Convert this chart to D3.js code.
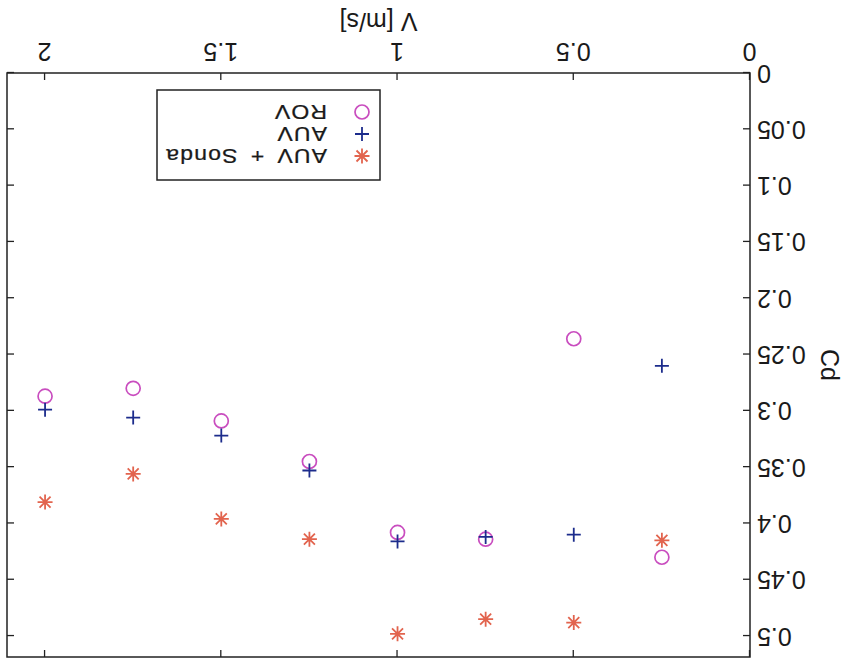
<!DOCTYPE html>
<html>
<head>
<meta charset="utf-8">
<script src="https://cdn.jsdelivr.net/npm/d3@7"></script>
<style>
  html, body { margin: 0; padding: 0; background: #fff; }
  svg { display: block; }
  text { font-family: "Liberation Sans", Arial, sans-serif; fill: #1a1a1a; }
</style>
</head>
<body>
<svg id="chart" width="845" height="661"></svg>
<script>
// ---- data ----
const speeds = [0.25, 0.5, 0.75, 1, 1.25, 1.5, 1.75, 2];
const cdROV   = [0.430, 0.236, 0.414, 0.408, 0.345, 0.309, 0.280, 0.287];
const cdAUV   = [0.260, 0.410, 0.412, 0.416, 0.353, 0.322, 0.306, 0.299];
const cdSonda = [0.415, 0.488, 0.485, 0.498, 0.414, 0.396, 0.356, 0.381];
const xTickValues = [0, 0.5, 1, 1.5, 2];
const yTickValues = [0, 0.05, 0.1, 0.15, 0.2, 0.25, 0.3, 0.35, 0.4, 0.45, 0.5];
const seriesNames = ["AUV + Sonda", "AUV", "ROV"];
const xLabel = "V [m/s]";
const yLabel = "Cd";

(function () {
const W = 845, H = 661;
const colors = { "ROV": "#c94dbf", "AUV": "#1c2c8c", "AUV + Sonda": "#e2644e" };
const svg = d3.select("#chart");
// the whole figure appears rotated by 180 degrees
const root = svg.append("g").attr("transform", `rotate(180, ${W/2}, ${H/2})`);

const pL = 95, pR = 838, pT = 4, pB = 588;
const x = d3.scaleLinear().domain([0, 2.108]).range([pL, pR]);
const y = d3.scaleLinear().domain([0, 0.5186]).range([pB, pT]);

const tk = 7;
const fmt = d3.format("");
const axB = root.append("g").attr("transform", `translate(0,${pB})`)
  .call(d3.axisBottom(x).tickValues(xTickValues).tickSize(-tk).tickPadding(12).tickFormat(d => fmt(d)));
const axT = root.append("g").attr("transform", `translate(0,${pT})`)
  .call(d3.axisTop(x).tickValues(xTickValues).tickSize(-tk).tickFormat(""));
const axL = root.append("g").attr("transform", `translate(${pL},0)`)
  .call(d3.axisLeft(y).tickValues(yTickValues).tickSize(-tk).tickPadding(7).tickFormat(d => fmt(d)));
const axR = root.append("g").attr("transform", `translate(${pR},0)`)
  .call(d3.axisRight(y).tickValues(yTickValues).tickSize(-tk).tickFormat(""));
[axB, axT, axL, axR].forEach(a => {
  a.select(".domain").remove();
  a.selectAll(".tick line").attr("stroke", "#222").attr("stroke-width", 1.3);
  a.selectAll(".tick text").attr("font-size", 25).attr("fill", "#1a1a1a")
    .style("font-family", "'Liberation Sans', Arial, sans-serif");
});

root.append("rect").attr("x", pL).attr("y", pT)
  .attr("width", pR - pL).attr("height", pB - pT)
  .attr("fill", "none").attr("stroke", "#222").attr("stroke-width", 1.5);

// axis titles
root.append("text").attr("x", (pL + pR) / 2).attr("y", 639)
  .attr("text-anchor", "middle").attr("dominant-baseline", "central")
  .attr("font-size", 25).text(xLabel);
root.append("text").attr("transform", `translate(15,${(pT + pB) / 2}) rotate(-90)`)
  .attr("text-anchor", "middle").attr("dominant-baseline", "central")
  .attr("font-size", 25).text(yLabel);

// marker shapes
const markerPath = {
  "AUV": "M-7,0H7M0,-7V7",
  "AUV + Sonda": "M-7.5,0H7.5M0,-7.5V7.5M-5.5,-5.5L5.5,5.5M-5.5,5.5L5.5,-5.5"
};
function drawMarker(g, name, cx, cy) {
  if (name === "ROV") {
    g.append("circle").attr("cx", cx).attr("cy", cy).attr("r", 7)
      .attr("fill", "none").attr("stroke", colors[name]).attr("stroke-width", 1.7);
  } else {
    g.append("path").attr("transform", `translate(${cx},${cy})`).attr("d", markerPath[name])
      .attr("fill", "none").attr("stroke", colors[name]).attr("stroke-width", 1.8);
  }
}

const seriesData = { "ROV": cdROV, "AUV": cdAUV, "AUV + Sonda": cdSonda };
const pts = root.append("g");
["ROV", "AUV", "AUV + Sonda"].forEach(name => {
  seriesData[name].forEach((v, i) => drawMarker(pts, name, x(speeds[i]), y(v)));
});

// legend
const lg = root.append("g");
lg.append("rect").attr("x", 465).attr("y", 481).attr("width", 223).attr("height", 90)
  .attr("fill", "#fff").attr("stroke", "#222").attr("stroke-width", 1.5);
seriesNames.forEach((name, i) => {
  const ly = 505 + i * 22;
  drawMarker(lg, name, 483, ly);
  lg.append("text").attr("transform", `translate(518,${ly}) scale(1.15,1)`)
    .attr("dominant-baseline", "central")
    .attr("font-size", 20).attr("letter-spacing", 1).attr("word-spacing", 4)
    .attr("stroke", "#1a1a1a").attr("stroke-width", 0.25)
    .text(name);
});
})();
</script>
</body>
</html>
